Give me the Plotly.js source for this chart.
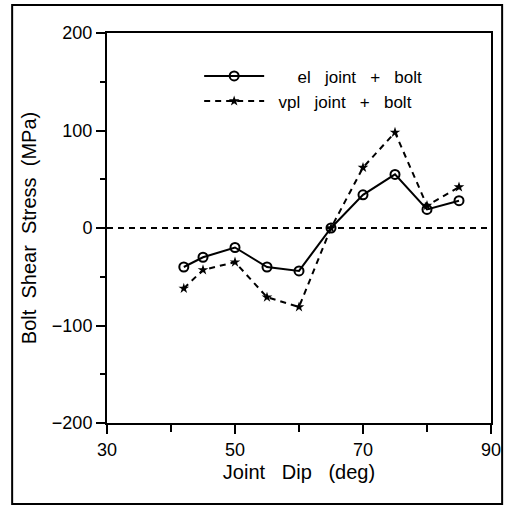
<!DOCTYPE html>
<html>
<head>
<meta charset="utf-8">
<script src="https://cdn.plot.ly/plotly-3.0.1.min.js"></script>
<style>html,body{margin:0;padding:0;background:#fff;}#chart{width:507px;height:507px;}</style>
</head>
<body>
<div id="chart"></div>
<script>
const jointDip = [42, 45, 50, 55, 60, 65, 70, 75, 80, 85];
const elJointBolt = [-40, -30, -20, -40, -44, 0, 34, 55, 19, 28];
const vplJointBolt = [-62, -43, -35, -71, -81, 0, 62, 98, 23, 42];
const seriesNames = ['el joint + bolt', 'vpl joint + bolt'];
const xTicks = [30, 50, 70, 90];
const yTicks = [-200, -100, 0, 100, 200];

const fontFam = 'Liberation Sans, Arial, sans-serif';
const nb = '\u00a0';
function spaced(s, n) { return s.split(' ').join(nb.repeat(n)); }
const legendNames = [nb.repeat(6) + spaced(seriesNames[0], 3), nb.repeat(2) + spaced(seriesNames[1], 3)];

const traces = [
  {x: jointDip, y: elJointBolt, name: legendNames[0], mode: 'lines+markers',
   line: {color: '#000', width: 2},
   marker: {symbol: 'circle-open', size: 9, color: '#000', line: {width: 2, color: '#000'}}},
  {x: jointDip, y: vplJointBolt, name: legendNames[1], mode: 'lines+markers',
   line: {color: '#000', width: 2, dash: '6px,5px'},
   marker: {symbol: 'star', size: 8, color: '#000'}}
];
const axisCommon = {
  showgrid: false, zeroline: false, showline: true, mirror: true,
  linecolor: '#000', linewidth: 2, ticks: 'outside', ticklen: 9, tickwidth: 2, tickcolor: '#000',
  tickfont: {family: fontFam, size: 18, color: '#000'}
};
const layout = {
  width: 507, height: 507,
  margin: {l: 107, r: 16, t: 33, b: 84},
  paper_bgcolor: '#fff', plot_bgcolor: '#fff',
  showlegend: true,
  legend: {x: 0.24, y: 0.935, xanchor: 'left', yanchor: 'top', bgcolor: 'rgba(0,0,0,0)',
           font: {family: fontFam, size: 17, color: '#000'}, itemwidth: 60, tracegroupgap: 0},
  xaxis: Object.assign({}, axisCommon, {
    range: [30, 90], tickvals: xTicks, ticktext: xTicks.map(String),
    minor: {dtick: 10, ticks: 'outside', ticklen: 7, tickwidth: 2, tickcolor: '#000'},
    title: {text: spaced('Joint Dip (deg)', 3), font: {family: fontFam, size: 20, color: '#000'}, standoff: 6}
  }),
  yaxis: Object.assign({}, axisCommon, {
    range: [-200, 200], tickvals: yTicks, ticktext: yTicks.map(v => v < 0 ? '\u2212' + Math.abs(v) : String(v)),
    minor: {dtick: 50, ticks: 'outside', ticklen: 5, tickwidth: 2, tickcolor: '#000'},
    title: {text: spaced('Bolt Shear Stress (MPa)', 2), font: {family: fontFam, size: 20, color: '#000'}, standoff: 10}
  }),
  shapes: [
    {type: 'line', xref: 'paper', x0: 0, x1: 1, yref: 'y', y0: 0, y1: 0,
     line: {color: '#000', width: 2, dash: '6px,5px'}},
    {type: 'rect', xref: 'paper', yref: 'paper', x0: -0.247, x1: 1.029, y0: -0.208, y1: 1.072,
     line: {color: '#000', width: 2}}
  ]
};
Plotly.newPlot('chart', traces, layout, {staticPlot: true, displayModeBar: false});
</script>
</body>
</html>
